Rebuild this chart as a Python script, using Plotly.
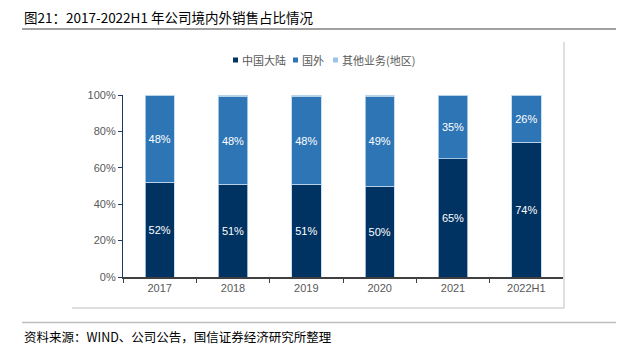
import plotly.graph_objects as go

W, H = 622, 351
categories = ["2017", "2018", "2019", "2020", "2021", "2022H1"]
mainland = [52, 51, 51, 50, 65, 74]
overseas = [48, 48, 48, 49, 35, 26]
other = [0.5, 1, 1, 1, 0.2, 0.2]
names = ["中国大陆", "国外", "其他业务(地区)"]
colors = ["#003262", "#2E75B6", "#9DC3E6"]
title = "图21：2017-2022H1 年公司境内外销售占比情况"
source = "资料来源：WIND、公司公告，国信证券经济研究所整理"

fig = go.Figure()
series = [mainland, overseas, other]
for i, (vals, nm, c) in enumerate(zip(series, names, colors)):
    show_text = i < 2
    fig.add_trace(go.Bar(
        x=categories, y=vals, name=nm,
        marker=dict(color=c, line=dict(color="#BDD7EE", width=0.8)),
        text=[f"{v:.0f}%" for v in vals] if show_text else None,
        textposition="inside" if show_text else "none",
        insidetextanchor="middle",
        textfont=dict(color="white", size=11, family="Liberation Sans"),
        hoverinfo="skip",
        showlegend=False,
    ))

x0, x1 = 123 / W, 563 / W
y0, y1 = 1 - 277 / H, 1 - 95 / H

fig.update_layout(
    width=W, height=H,
    margin=dict(l=0, r=0, t=0, b=0, autoexpand=False),
    barmode="stack",
    bargap=0.6,
    plot_bgcolor="white", paper_bgcolor="white",
    font=dict(family="Liberation Sans", size=11, color="#595959"),
    showlegend=False,
    uniformtext=dict(mode="show", minsize=8),
    xaxis=dict(domain=[x0, x1], type="category", showline=True, linecolor="#404040", linewidth=1.5,
               ticks="outside", tickson="boundaries", ticklen=4, tickcolor="#404040",
               showgrid=False, tickfont=dict(size=11, color="#595959")),
    yaxis=dict(domain=[y0, y1], range=[0, 100], dtick=20, ticksuffix="%",
               showline=True, linecolor="#1F3864", linewidth=1.2,
               ticks="outside", ticklen=4, tickcolor="#1F3864",
               showgrid=False, zeroline=False, tickfont=dict(size=11, color="#595959")),
)

shapes = [
    dict(type="line", xref="paper", yref="paper", x0=22 / W, x1=616 / W, y0=1 - 29 / H, y1=1 - 29 / H,
         line=dict(color="#808080", width=1.5)),
    dict(type="line", xref="paper", yref="paper", x0=22 / W, x1=616 / W, y0=1 - 322.5 / H, y1=1 - 322.5 / H,
         line=dict(color="#BFBFBF", width=1.5)),
    dict(type="line", xref="paper", yref="paper", x0=564 / W, x1=564 / W, y0=1 - 42 / H, y1=1 - 308 / H,
         line=dict(color="#BFBFBF", width=1)),
    dict(type="line", xref="paper", yref="paper", x0=72 / W, x1=564 / W, y0=1 - 308 / H, y1=1 - 308 / H,
         line=dict(color="#BFBFBF", width=1)),
]

# manual compact legend
legend_x = [233, 293, 333]
ly = 60
for lx, nm, c in zip(legend_x, names, colors):
    shapes.append(dict(type="rect", xref="paper", yref="paper",
                       x0=lx / W, x1=(lx + 5) / W, y0=1 - (ly + 2.5) / H, y1=1 - (ly - 2.5) / H,
                       fillcolor=c, line=dict(width=0)))
    fig.add_annotation(text=nm, xref="paper", yref="paper", x=(lx + 7) / W, y=1 - ly / H,
                       xanchor="left", yanchor="middle", showarrow=False,
                       font=dict(family="Noto Sans CJK SC", size=11, color="#595959"))
fig.update_layout(shapes=shapes)

fig.add_annotation(text=title, xref="paper", yref="paper", x=22 / W, y=1 - 17 / H,
                   xanchor="left", yanchor="middle", showarrow=False,
                   font=dict(family="Noto Sans CJK SC", size=13.5, color="#000000"))
fig.add_annotation(text=source, xref="paper", yref="paper", x=22 / W, y=1 - 336 / H,
                   xanchor="left", yanchor="middle", showarrow=False,
                   font=dict(family="Noto Sans CJK SC", size=12.5, color="#000000"))

fig.write_html("out.html")
